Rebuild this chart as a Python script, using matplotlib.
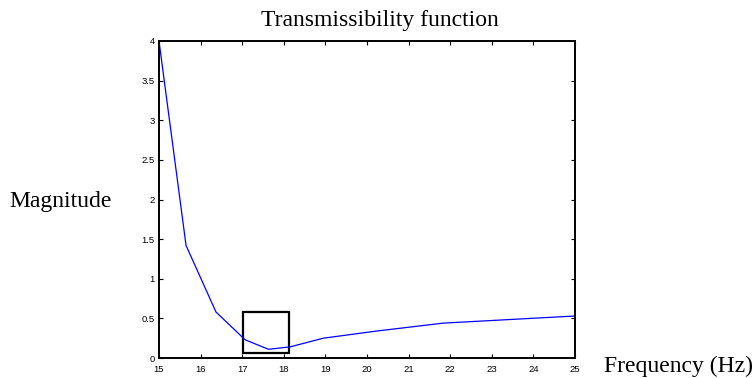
import matplotlib
matplotlib.use("Agg")
import matplotlib.pyplot as plt
from matplotlib.patches import Rectangle

freq = [15.0, 15.65, 16.37, 17.07, 17.63, 18.15, 18.95, 20.23, 21.83, 25.0]
magnitude = [4.0, 1.42, 0.58, 0.23, 0.11, 0.14, 0.25, 0.34, 0.44, 0.53]
x_ticks = list(range(15, 26))
y_ticks = [0, 0.5, 1, 1.5, 2, 2.5, 3, 3.5, 4]
y_tick_labels = ["0", "0.5", "1", "1.5", "2", "2.5", "3", "3.5", "4"]
box_x = [17.03, 18.13]
box_y = [0.067, 0.58]

fig = plt.figure(figsize=(7.56, 3.78), dpi=100)
W, H = 756, 378
left, right, top, bottom = 159, 575, 41, 358
ax = fig.add_axes([left / W, 1 - bottom / H, (right - left) / W, (bottom - top) / H])

ax.plot(freq, magnitude, color="#0000ff", lw=0.9)
ax.add_patch(Rectangle((box_x[0], box_y[0]), box_x[1] - box_x[0], box_y[1] - box_y[0],
                       fill=False, edgecolor="black", lw=1.6))

ax.set_xlim(15, 25)
ax.set_ylim(0, 4)
ax.set_xticks(x_ticks)
ax.set_xticklabels([str(t) for t in x_ticks])
ax.set_yticks(y_ticks)
ax.set_yticklabels(y_tick_labels)
ax.tick_params(direction="in", length=3, width=0.8, top=True, right=True,
               labelsize=6.8)
ax.tick_params(axis="x", pad=5)
ax.tick_params(axis="y", pad=3)
for lab in ax.get_xticklabels() + ax.get_yticklabels():
    lab.set_fontfamily("Liberation Sans")
for s in ax.spines.values():
    s.set_linewidth(1.4)

serif = "Liberation Serif"
fig.text(380 / W, 1 - 26 / H, "Transmissibility function", ha="center", va="baseline",
         fontsize=17, family=serif)
fig.text(61 / W, 1 - 207 / H, "Magnitude", ha="center", va="baseline",
         fontsize=17, family=serif)
fig.text(678 / W, 1 - 372 / H, "Frequency (Hz)", ha="center", va="baseline",
         fontsize=17, family=serif)

fig.savefig("out.png", dpi=100)
